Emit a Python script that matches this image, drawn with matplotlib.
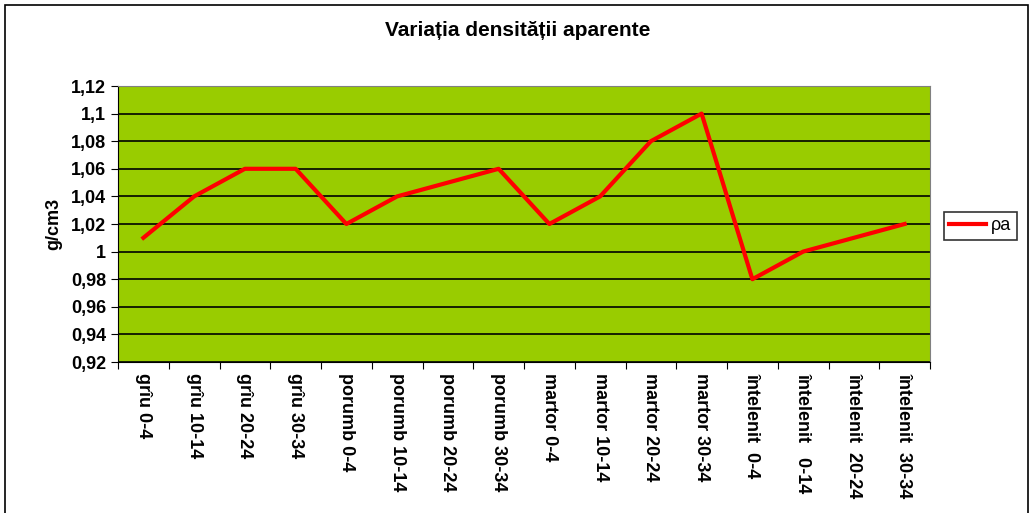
import numpy as np
import matplotlib.pyplot as plt
from matplotlib.patches import Rectangle

plt.rcParams['font.family'] = ['Liberation Sans', 'DejaVu Sans']
plt.rcParams['font.weight'] = 'bold'
plt.rcParams['axes.labelweight'] = 'bold'

categories = ["grîu 0-4", "grîu 10-14", "grîu 20-24", "grîu 30-34",
              "porumb 0-4", "porumb 10-14", "porumb 20-24", "porumb 30-34",
              "martor 0-4", "martor 10-14", "martor 20-24", "martor 30-34",
              "întelenit  0-4", "întelenit   0-14", "întelenit  20-24", "întelenit  30-34"]
pa = [1.01, 1.04, 1.06, 1.06, 1.02, 1.04, 1.05, 1.06,
      1.02, 1.04, 1.08, 1.10, 0.98, 1.00, 1.01, 1.02]
yticks = [0.92, 0.94, 0.96, 0.98, 1.00, 1.02, 1.04, 1.06, 1.08, 1.10, 1.12]
ytick_labels = ["0,92", "0,94", "0,96", "0,98", "1", "1,02", "1,04", "1,06", "1,08", "1,1", "1,12"]

fig = plt.figure(figsize=(10.34, 5.13), dpi=100)
ax = fig.add_axes([118/1034, 1-362/513, 812/1034, 276/513])
fig.patches.append(Rectangle((5/1034, -0.1), 1023/1034, 1.1 - 5/513, transform=fig.transFigure,
                             fill=False, edgecolor='black', linewidth=1.2))

x = np.arange(len(categories))
ax.set_facecolor('#99CC00')
ax.plot(x, pa, color='#FF0000', linewidth=3, label='ρa', zorder=3)
ax.set_xlim(-0.5, len(categories) - 0.5)
ax.set_ylim(0.92, 1.12)
ax.set_yticks(yticks)
ax.set_yticklabels(ytick_labels, fontsize=13)
for y in yticks:
    ax.axhline(y, color='black', linewidth=1.2, zorder=2)
ax.set_xticks(np.arange(len(categories) + 1) - 0.5, minor=False)
ax.set_xticklabels([])
ax.set_xticks(x, minor=True)
ax.set_xticklabels(categories, minor=True, rotation=-90, fontsize=13, va='top', ha='center')
ax.tick_params(axis='x', which='minor', length=0, pad=8)
ax.tick_params(axis='x', which='major', length=5, direction='out')
ax.tick_params(axis='y', length=5, direction='out')
for s in ['top', 'right']:
    ax.spines[s].set_color('#808080')
ax.spines['left'].set_color('black')
ax.spines['bottom'].set_color('black')
ax.set_ylabel('g/cm3', fontsize=13, labelpad=6)

fig.text(518/1034, 1-30/513, 'Variația densității aparente', ha='center', va='center', fontsize=15)
leg = ax.legend(loc='center left', bbox_to_anchor=(944/1034, 1-226/513), bbox_transform=fig.transFigure,
                prop={'size': 13, 'weight': 'normal'}, frameon=True, fancybox=False, edgecolor='black',
                handlelength=2.0, borderpad=0.3, handletextpad=0.3, borderaxespad=0)
leg.get_frame().set_linewidth(1.2)

fig.savefig('out.png', dpi=100)
